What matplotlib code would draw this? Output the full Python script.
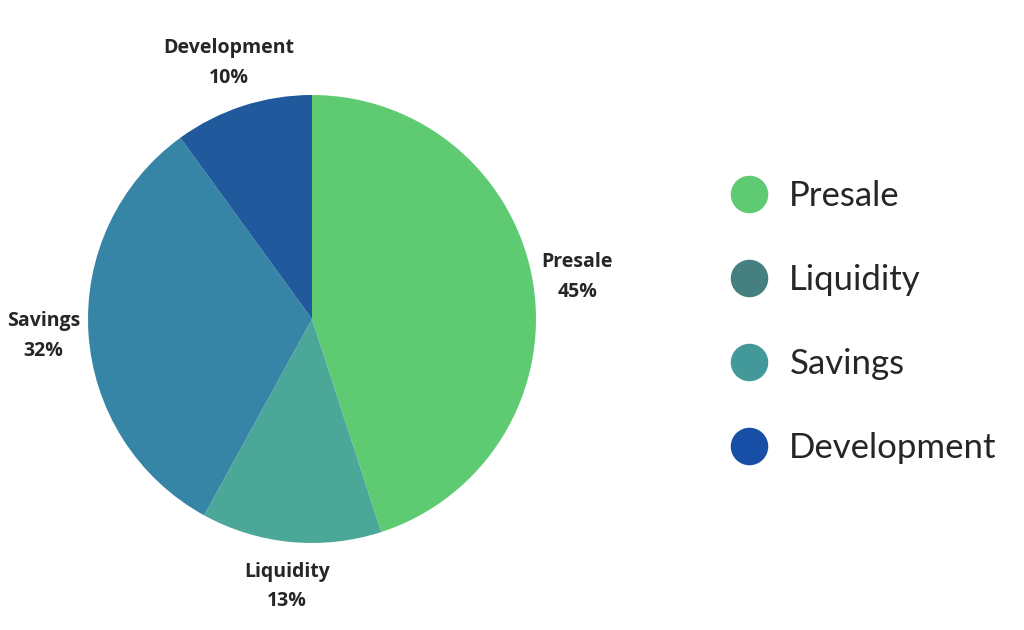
import matplotlib
matplotlib.use('Agg')
import matplotlib.pyplot as plt
from matplotlib.lines import Line2D

categories = ['Presale', 'Liquidity', 'Savings', 'Development']
shares = [45, 13, 32, 10]
pie_colors = ['#5ECB72', '#4BA898', '#3785A6', '#20599C']
legend_colors = ['#5ECB72', '#457F80', '#43999A', '#174EA6']

fig = plt.figure(figsize=(10.24, 6.3), dpi=100)
# axes placed so the pie sits where the reference has it
ax = fig.add_axes([88 / 1024, 87 / 630, 448 / 1024, 448 / 630])

labels = [f'{c}\n{s}%' for c, s in zip(categories, shares)]
wedges, texts = ax.pie(shares, colors=pie_colors, startangle=90, counterclock=False,
                       labels=labels, labeldistance=1.2, radius=1,
                       textprops=dict(fontsize=14, fontweight='bold', color='#262626',
                                      family='Open Sans', linespacing=1.65))
for t in texts:
    t.set_ha('center')
    t.set_va('center')
ax.set_xlim(-1, 1)
ax.set_ylim(-1, 1)
ax.set_aspect('auto')
ax.axis('off')

handles = [Line2D([0], [0], marker='o', linestyle='none', markersize=26,
                  markerfacecolor=c, markeredgecolor=c) for c in legend_colors]
fig.legend(handles, categories, loc='center left', bbox_to_anchor=(0.681, 0.489),
           frameon=False, prop=dict(family='Lato', size=25), labelspacing=1.5,
           handlelength=1.2, handletextpad=0.55, labelcolor='#262626')

fig.savefig('out.png', dpi=100, facecolor='white')
